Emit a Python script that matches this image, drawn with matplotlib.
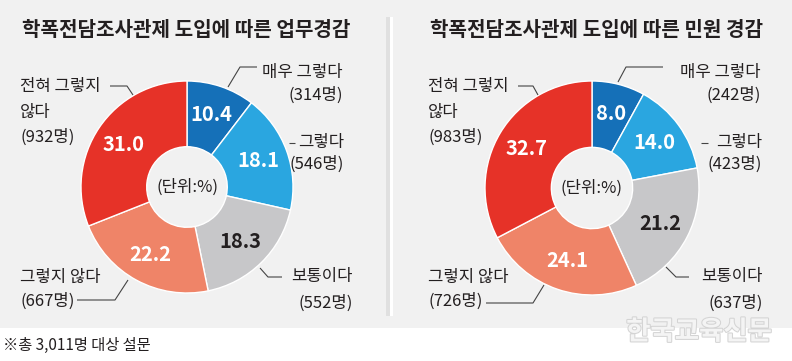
import matplotlib.pyplot as plt
import matplotlib.patheffects as pe
from matplotlib.patches import Rectangle
import numpy as np

plt.rcParams['font.family'] = ['Noto Sans CJK KR', 'DejaVu Sans']

# data
categories = ['매우 그렇다', '그렇다', '보통이다', '그렇지 않다', '전혀 그렇지 않다']
work_pct = [10.4, 18.1, 18.3, 22.2, 31.0]
work_cnt = [314, 546, 552, 667, 932]
complaint_pct = [8.0, 14.0, 21.2, 24.1, 32.7]
complaint_cnt = [242, 423, 637, 726, 983]
titles = ['학폭전담조사관제 도입에 따른 업무경감', '학폭전담조사관제 도입에 따른 민원 경감']
footnote = '※총 3,011명 대상 설문'
center_note = '(단위:%)'
source = '한국교육신문'

colors = ['#1570b8', '#2aa6e0', '#c7c7c9', '#ef8468', '#e63228']
value_colors = ['white', 'white', '#231f20', 'white', 'white']
BG = '#f1f1f1'
TXT = '#231f20'

W, H = 792, 361
fig = plt.figure(figsize=(W / 100, H / 100), dpi=100)

# background axes in pixel coords
bg = fig.add_axes([0, 0, 1, 1], zorder=0)
bg.set_xlim(0, W)
bg.set_ylim(H, 0)
bg.axis('off')
bg.add_patch(Rectangle((0, 0), W, 328, color=BG, lw=0))
bg.add_patch(Rectangle((386, 17), 4, 299, color='#e0e0e0', lw=0))
bg.add_patch(Rectangle((390, 17), 3, 299, color='white', lw=0))


def donut(cx, cy, r, pct):
    ax = fig.add_axes([(cx - r) / W, (H - cy - r) / H, 2 * r / W, 2 * r / H], zorder=1)
    wedges, _ = ax.pie(pct, colors=colors, startangle=90, counterclock=False,
                       radius=1, wedgeprops=dict(width=0.62, edgecolor='white', linewidth=1))
    ax.set_xlim(-1, 1)
    ax.set_ylim(-1, 1)
    ax.set_aspect('equal')
    cum = np.cumsum([0] + list(pct))
    for i, v in enumerate(pct):
        mid = np.deg2rad(90 - 3.6 * (cum[i] + v / 2))
        ax.text(0.72 * np.cos(mid), 0.72 * np.sin(mid), f'{v:.1f}', ha='center', va='center',
                fontsize=14.5, fontweight='bold', color=value_colors[i])
    ax.text(0, 0, center_note, ha='center', va='center', fontsize=12, color=TXT)
    return ax


donut(187, 187, 106, work_pct)
donut(592, 188, 107, complaint_pct)

ov = fig.add_axes([0, 0, 1, 1], zorder=3)
ov.set_xlim(0, W)
ov.set_ylim(H, 0)
ov.axis('off')
ov.patch.set_alpha(0)

ov.text(186, 30, titles[0], ha='center', va='center', fontsize=14.5, fontweight='bold', color=TXT)
ov.text(596, 30, titles[1], ha='center', va='center', fontsize=14.5, fontweight='bold', color=TXT)

fs = 12


def lab(x, y, s, ha):
    ov.text(x, y, s, ha=ha, va='center', fontsize=fs, color=TXT)


def line(pts):
    xs, ys = zip(*pts)
    ov.plot(xs, ys, color='#444444', lw=0.8, solid_capstyle='butt')


for off, cnt, rx, bx, pts in [
    (0, work_cnt, 343, 353,
     [[(228, 87), (240, 67), (257, 67)], [(289, 143), (295, 143)],
      [(260, 268), (268, 277), (282, 277)], [(128, 280), (115, 300), (77, 300)],
      [(110, 86), (127, 86), (133, 95)]]),
    (408, complaint_cnt, 761, 763,
     [[(618, 82), (626, 67), (663, 67)], [(701, 143), (708, 143)],
      [(666, 267), (676, 277), (689, 277)], [(544, 285), (533, 303), (486, 303)],
      [(518, 86), (533, 86), (538, 95)]]),
]:
    lx = 20 + off
    lab(rx, 72, categories[0], 'right')
    lab(rx, 95, f'({cnt[0]}명)', 'right')
    lab(rx + 1, 143, categories[1], 'right')
    lab(rx + 1, 164, f'({cnt[1]}명)', 'right')
    lab(bx, 277, categories[2], 'right')
    lab(bx, 303, f'({cnt[2]}명)', 'right')
    lab(lx, 277, categories[3], 'left')
    lab(lx, 301, f'({cnt[3]}명)', 'left')
    lab(lx, 87, '전혀 그렇지', 'left')
    lab(lx, 112, '않다', 'left')
    lab(lx, 137, f'({cnt[4]}명)', 'left')
    for p in pts:
        line(p)

ov.text(3, 345, footnote, ha='left', va='center', fontsize=11, color=TXT)
ov.text(699, 332, source, ha='center', va='center', fontsize=19, fontweight='bold',
        color='#f4f4f4', path_effects=[pe.withStroke(linewidth=1.5, foreground='#d4d4d4')])

fig.savefig('out.png', dpi=100)
